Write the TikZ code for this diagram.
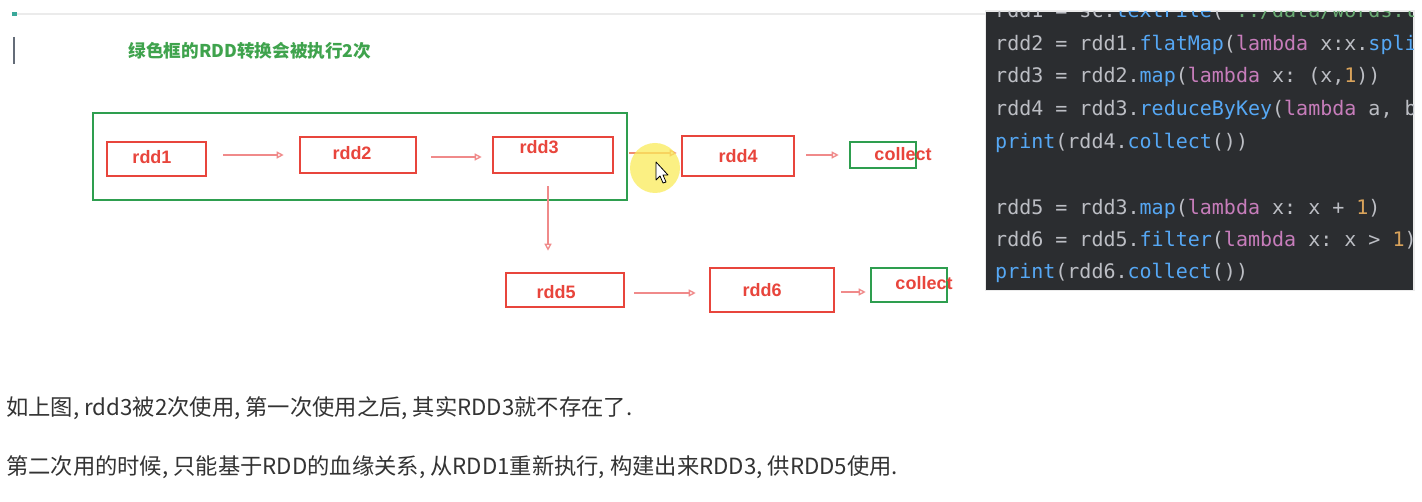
\documentclass[tikz,border=0pt]{standalone}
\usepackage{fontspec}
\usetikzlibrary{arrows.meta}
\setmainfont{Liberation Sans}
\newfontfamily\cjk{Noto Sans CJK SC}
\newfontfamily\codefont{DejaVu Sans Mono}
\definecolor{boxred}{HTML}{E8453C}
\definecolor{boxgreen}{HTML}{2E9E4F}
\definecolor{arrpink}{HTML}{F08A8A}
\definecolor{titlegreen}{HTML}{3FA34D}
\definecolor{panelbg}{HTML}{2B2D30}
\definecolor{cgray}{HTML}{BCBEC4}
\definecolor{cblue}{HTML}{56A8F5}
\definecolor{cpurple}{HTML}{C77DBB}
\definecolor{corange}{HTML}{D9A35B}
\definecolor{cstr}{HTML}{6AAB73}
\definecolor{bodytext}{HTML}{333333}
\frenchspacing
\tikzset{
  rddbox/.style={draw=boxred, line width=2.6pt, minimum width=#1, inner sep=0pt},
  rddtext/.style={text=boxred, font=\fontsize{18}{20}\selectfont\bfseries},
  greenbox/.style={draw=boxgreen, line width=2.6pt, inner sep=0pt},
  arr/.style={draw=arrpink, line width=1.3pt, -{Triangle[open,length=7pt,width=7pt]}},
  codeline/.style={anchor=base west, inner sep=0pt, font=\codefont\fontsize{20}{24}\selectfont\frenchspacing, text=cgray},
  bodyline/.style={anchor=base west, inner sep=0pt, font=\cjk\fontsize{22.3}{26}\selectfont, text=bodytext},
}
\begin{document}
\begin{tikzpicture}[x=1pt,y=-1pt]
\useasboundingbox[fill=white] (0,0) rectangle (1422,502);
% top rule and markers
\draw[draw=black!8, line width=1.5pt] (12,14) -- (985,14);
\fill[color={rgb,255:red,58;green,168;blue,154}] (12,12.5) rectangle (17,16);
\draw[draw={rgb,255:red,100;green,108;blue,120}, line width=2.5pt] (14,37) -- (14,64);
% title
\node[inner sep=0pt, text=titlegreen, font=\cjk\fontsize{17.6}{20}\selectfont\bfseries] (title) at (250,51) {绿色框的RDD转换会被执行2次};
% big green box
\node[greenbox, minimum width=534pt, minimum height=87pt] (gbox) at (360,156.5) {};
% rdd boxes
\node[rddbox=99pt, minimum height=34pt] (rdd1) at (156.5,159) {};
\node[rddtext] (t1) at (152,157) {rdd1};
\node[rddbox=116pt, minimum height=36pt] (rdd2) at (358,155) {};
\node[rddtext] (t2) at (352,153) {rdd2};
\node[rddbox=120pt, minimum height=36pt] (rdd3) at (553,155) {};
\node[rddtext] (t3) at (539,147) {rdd3};
\node[rddbox=112pt, minimum height=40pt] (rdd4) at (738,156) {};
\node[rddtext] (t4) at (738,156) {rdd4};
\node[greenbox, minimum width=66pt, minimum height=26pt] (col1) at (883,155) {};
\node[rddtext] (tc1) at (903,154) {collect};
\node[rddbox=118pt, minimum height=34pt] (rdd5) at (565,290) {};
\node[rddtext] (t5) at (556,292) {rdd5};
\node[rddbox=124pt, minimum height=44pt] (rdd6) at (772,290) {};
\node[rddtext] (t6) at (762,290) {rdd6};
\node[greenbox, minimum width=76pt, minimum height=34pt] (col2) at (909,285) {};
\node[rddtext] (tc2) at (924,283) {collect};
% arrows
\draw[arr, shorten <=16pt, shorten >=15pt] (rdd1.east |- 0,155) -- (rdd2.west |- 0,155);
\draw[arr, shorten <=14pt, shorten >=10pt] (rdd2.east |- 0,157) -- (rdd3.west |- 0,157);
\draw[arr, draw={rgb,255:red,240;green,140;blue,110}, shorten <=1pt, shorten >=4pt] (gbox.east |- 0,153) -- (rdd4.west |- 0,153);
\draw[arr, shorten <=11pt, shorten >=10pt] (rdd4.east |- 0,155) -- (col1.west |- 0,155);
\draw[arr, shorten <=12pt, shorten >=21pt] (rdd3.south -| 548,0) -- (rdd5.north -| 548,0);
\draw[arr, shorten <=9pt, shorten >=13pt] (rdd5.east |- 0,293) -- (rdd6.west |- 0,293);
\draw[arr, shorten <=6pt, shorten >=4pt] (rdd6.east |- 0,292) -- (col2.west |- 0,292);
% cursor highlight
\fill[color={rgb,255:red,250;green,236;blue,90}, opacity=0.75] (655,168) circle (25pt);
\draw[fill=white, draw=black, line width=0.8pt, line join=round] (656,162) -- (656,180) -- (660,176) -- (663,183) -- (666,182) -- (663,175) -- (668,175) -- cycle;
% code panel
\fill[black!8] (984.5,10.5) rectangle (1414.5,291.5);
\fill[panelbg] (986,12) rectangle (1413,290);
\begin{scope}
\clip (986,12) rectangle (1413,290);
\node[codeline] (c1) at (995,18) {rdd1 = sc.\textcolor{cblue}{textFile}(\textcolor{cstr}{"../data/words.t}};
\node[codeline] (c2) at (995,51) {rdd2 = rdd1.\textcolor{cblue}{flatMap}(\textcolor{cpurple}{lambda} x:x.\textcolor{cblue}{split}};
\node[codeline] (c3) at (995,83) {rdd3 = rdd2.\textcolor{cblue}{map}(\textcolor{cpurple}{lambda} x: (x,\textcolor{corange}{1}))};
\node[codeline] (c4) at (995,116) {rdd4 = rdd3.\textcolor{cblue}{reduceByKey}(\textcolor{cpurple}{lambda} a, b};
\node[codeline] (c5) at (995,149) {\textcolor{cblue}{print}(rdd4.\textcolor{cblue}{collect}())};
\node[codeline] (c6) at (995,215) {rdd5 = rdd3.\textcolor{cblue}{map}(\textcolor{cpurple}{lambda} x: x + \textcolor{corange}{1})};
\node[codeline] (c7) at (995,247) {rdd6 = rdd5.\textcolor{cblue}{filter}(\textcolor{cpurple}{lambda} x: x > \textcolor{corange}{1})};
\node[codeline] (c8) at (995,279) {\textcolor{cblue}{print}(rdd6.\textcolor{cblue}{collect}())};
\end{scope}
% body text
\node[bodyline] (b1) at (6,416) {如上图, rdd3被2次使用, 第一次使用之后, 其实RDD3就不存在了.};
\node[bodyline] (b2) at (6,474) {第二次用的时候, 只能基于RDD的血缘关系, 从RDD1重新执行, 构建出来RDD3, 供RDD5使用.};
\end{tikzpicture}
\end{document}
